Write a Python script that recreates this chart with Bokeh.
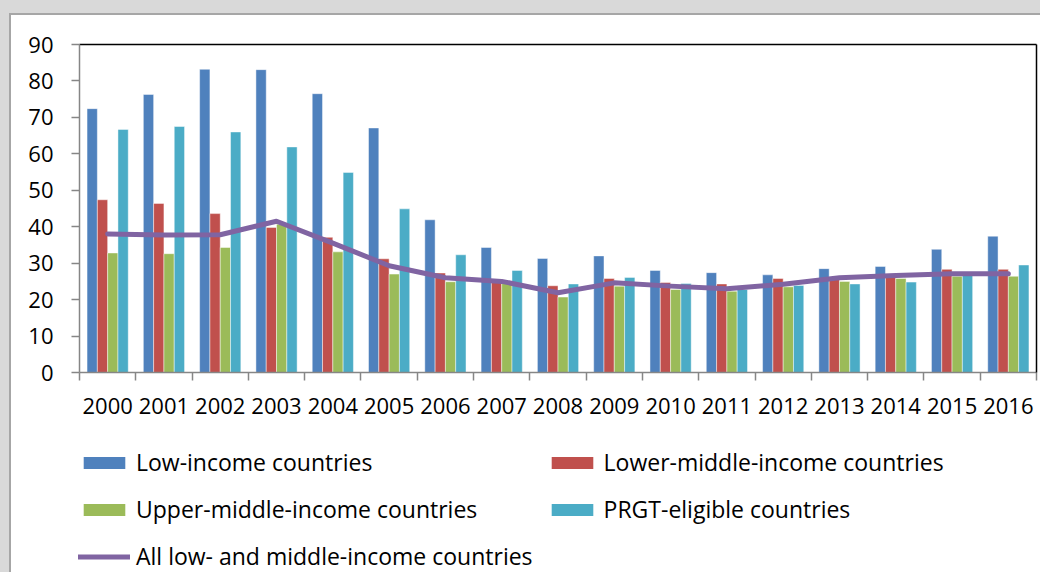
import numpy as np
from bokeh.plotting import figure
from bokeh.models import (ColumnDataSource, FixedTicker, LinearAxis, Legend,
                          LegendItem, Spacer, Range1d)
from bokeh.layouts import column, row
from bokeh.embed import file_html
from bokeh.resources import INLINE

years = ["2000", "2001", "2002", "2003", "2004", "2005", "2006", "2007", "2008",
         "2009", "2010", "2011", "2012", "2013", "2014", "2015", "2016"]
low_income = [72.4, 76.3, 83.2, 83.1, 76.5, 67.1, 41.9, 34.3, 31.3,
              32.0, 28.0, 27.4, 26.8, 28.5, 29.1, 33.8, 37.4]
lower_middle = [47.4, 46.4, 43.6, 39.8, 37.1, 31.2, 27.3, 25.0, 23.8,
                25.8, 24.7, 24.3, 25.8, 26.2, 26.4, 28.3, 28.3]
upper_middle = [32.8, 32.6, 34.3, 40.7, 33.1, 27.0, 24.9, 24.4, 20.7,
                23.7, 22.8, 22.3, 23.5, 25.0, 25.8, 26.4, 26.4]
prgt = [66.7, 67.5, 66.0, 61.9, 54.9, 44.9, 32.3, 28.0, 24.3,
        26.1, 24.4, 22.8, 23.9, 24.3, 24.8, 27.3, 29.5]
all_lmic = [38.0, 37.7, 37.8, 41.5, 35.5, 29.3, 26.0, 25.0, 21.9,
            24.6, 23.7, 23.0, 24.2, 26.0, 26.6, 27.1, 27.1]
y_ticks = [0, 10, 20, 30, 40, 50, 60, 70, 80, 90]

series = [
    ("Low-income countries", low_income, "#4F81BD"),
    ("Lower-middle-income countries", lower_middle, "#C0504D"),
    ("Upper-middle-income countries", upper_middle, "#9BBB59"),
    ("PRGT-eligible countries", prgt, "#4BACC6"),
]
line_name = "All low- and middle-income countries"
line_color = "#8064A2"

n = len(years)
xc = np.arange(n) + 0.5
bw = 0.183
offsets = [-1.5, -0.5, 0.5, 1.5]

FONT = "Open Sans"
AXFS = "22px"
LGFS = "23px"

bar_sources = [ColumnDataSource(dict(x=xc + off * bw, top=vals))
               for (name, vals, col), off in zip(series, offsets)]
line_source = ColumnDataSource(dict(x=xc, y=all_lmic))

# ---------------- main chart ----------------
W = 1029
H1 = 425
H2 = 132
p = figure(width=W, height=H1, output_backend="svg", toolbar_location=None,
           x_range=Range1d(0, n), y_range=Range1d(0, 90),
           min_border_left=68, min_border_right=4, min_border_top=29,
           min_border_bottom=68, background_fill_color="white",
           border_fill_color="white")
p.xaxis.visible = False
p.yaxis.visible = False
p.xgrid.visible = False
p.ygrid.visible = False
p.outline_line_color = None

for (name, vals, col), src in zip(series, bar_sources):
    p.vbar(x="x", top="top", bottom=0, width=bw, source=src,
           fill_color=col, line_color="white", line_alpha=0.45, line_width=1)

p.line("x", "y", source=line_source, line_color=line_color, line_width=5,
       line_cap="round", line_join="round")

# left axis
yax = LinearAxis(ticker=FixedTicker(ticks=y_ticks))
yax.axis_line_color = "#868686"
yax.axis_line_width = 1.5
yax.major_tick_line_color = "#868686"
yax.major_tick_line_width = 1.5
yax.major_tick_out = 8
yax.major_tick_in = 0
yax.minor_tick_line_color = None
yax.major_label_text_font = FONT
yax.major_label_text_font_size = AXFS
yax.major_label_text_color = "black"
yax.major_label_standoff = 18
p.add_layout(yax, "left")

# bottom axis: labels at centres, ticks at category boundaries
xax = LinearAxis(ticker=FixedTicker(ticks=list(xc),
                                    minor_ticks=list(np.arange(n + 1))))
xax.major_label_overrides = {float(x): y for x, y in zip(xc, years)}
xax.axis_line_color = "#868686"
xax.axis_line_width = 1.5
xax.major_tick_line_color = None
xax.major_tick_out = 8
xax.major_tick_in = 0
xax.minor_tick_line_color = "#868686"
xax.minor_tick_line_width = 1.5
xax.minor_tick_out = 8
xax.minor_tick_in = 0
xax.major_label_text_font = FONT
xax.major_label_text_font_size = AXFS
xax.major_label_text_color = "black"
xax.major_label_standoff = 17
p.add_layout(xax, "below")


def blank_axis(color):
    ax = LinearAxis(ticker=FixedTicker(ticks=[]))
    ax.axis_line_color = color
    ax.axis_line_width = 1.5
    ax.major_tick_line_color = None
    ax.minor_tick_line_color = None
    ax.major_tick_out = 0
    ax.major_tick_in = 0
    ax.minor_tick_out = 0
    ax.minor_tick_in = 0
    ax.major_label_standoff = 0
    ax.major_label_text_font_size = "0px"
    return ax


p.add_layout(blank_axis("black"), "above")
p.add_layout(blank_axis("black"), "right")

# ---------------- legend panel ----------------
# same data, kept far outside this panel's visible ranges; only the legend shows
lg = figure(width=W, height=H2, output_backend="svg", toolbar_location=None,
            x_range=Range1d(-5000, -4999), y_range=Range1d(-5000, -4999),
            min_border=0, background_fill_color="white",
            border_fill_color="white")
lg.xaxis.visible = False
lg.yaxis.visible = False
lg.xgrid.visible = False
lg.ygrid.visible = False
lg.outline_line_color = None

items = []
for (name, vals, col), src in zip(series, bar_sources):
    r = lg.vbar(x="x", top="top", bottom=0, width=bw, source=src,
                fill_color=col, line_color=None)
    items.append(LegendItem(label=name, renderers=[r]))
rl = lg.line("x", "y", source=line_source, line_color=line_color,
             line_width=5, line_cap="round")
items.append(LegendItem(label=line_name, renderers=[rl]))

legend = Legend(items=items, location=(67, -1), ncols=2,
                orientation="horizontal")
legend.glyph_width = 52
legend.glyph_height = 15
legend.label_standoff = 6
legend.label_height = 34
legend.label_width = 396
legend.spacing = 13
legend.padding = 0
legend.margin = 0
legend.border_line_color = None
legend.background_fill_alpha = 0
legend.label_text_font = FONT
legend.label_text_font_size = LGFS
legend.label_text_color = "black"
lg.add_layout(legend, "center")

LIGHT = {"background-color": "#d9d9d9"}
DARK = {"background-color": "#a6a6a6"}

layout = column(
    Spacer(width=1040, height=13, styles=LIGHT),
    row(Spacer(width=9, height=2, styles=LIGHT),
        Spacer(width=1031, height=2, styles=DARK)),
    row(Spacer(width=9, height=H1, styles=LIGHT),
        Spacer(width=2, height=H1, styles=DARK), p),
    row(Spacer(width=9, height=H2, styles=LIGHT),
        Spacer(width=2, height=H2, styles=DARK), lg),
    width=1040, height=572, spacing=0,
    styles={"background-color": "white"})

open("out.html", "w").write(file_html(layout, INLINE))
